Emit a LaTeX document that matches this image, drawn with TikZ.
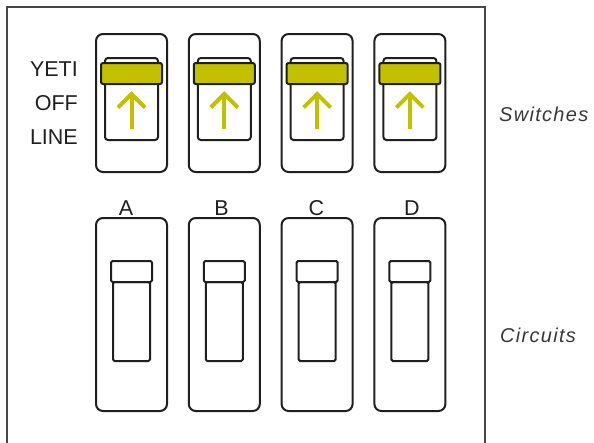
\documentclass[tikz,border=0pt]{standalone}
\usepackage{fontspec}
\setmainfont{Liberation Sans}
\newfontfamily\sidefont[LetterSpace=6.5]{Liberation Sans}
\begin{document}
\begin{tikzpicture}[x=1pt,y=-1pt,
  ink/.style={draw=black!88, line width=2pt},
  panel/.style={ink, rounded corners=7pt, minimum width=71pt, inner sep=0pt},
  lever/.style={ink, rounded corners=3pt, minimum width=53pt, minimum height=82pt, inner sep=0pt},
  band/.style={ink, fill=olive, rounded corners=2pt, minimum width=61pt, minimum height=21pt, inner sep=0pt},
  knob/.style={ink, rounded corners=1.5pt, minimum width=41pt, minimum height=21pt, inner sep=0pt},
  slot/.style={ink, rounded corners=1.5pt, minimum width=37pt, minimum height=79pt, inner sep=0pt},
  tag/.style={font=\fontsize{21.5}{24}\selectfont, text=black!88, inner sep=0pt},
  side/.style={font=\sidefont\itshape\fontsize{20}{22}\selectfont, text=black!78, inner sep=0pt, anchor=base west},
  uparrow/.style={draw=olive, line width=4pt}
]
\definecolor{olive}{HTML}{C2C000}
\useasboundingbox (0,0) rectangle (594,442);
\clip (0,0) rectangle (594,442);

% housing outline, open at the bottom
\draw[draw=black!72, line width=2pt] (7,445) -- (7,7) -- (485,7) -- (485,445);

% status legend
\node[tag, anchor=base east] (yeti) at (78,76) {YETI};
\node[tag, anchor=base east] (off)  at (78,110) {OFF};
\node[tag, anchor=base east] (line) at (78,144) {LINE};

% switches (top row) and circuits (bottom row)
\foreach \i/\lbl/\lx in {0/A/126, 1/B/221.5, 2/C/316.5, 3/D/412}{
  \pgfmathsetmacro{\cx}{131.5+92.8*\i}
  \node[panel, minimum height=138pt] (sw\i) at (\cx,103) {};
  \node[lever] (lev\i) at (\cx,99) {};
  \node[band] (band\i) at (\cx,73.5) {};
  \coordinate (tip\i) at (\cx,94);
  \coordinate (tail\i) at (\cx,128.5);
  \draw[uparrow] (tail\i) -- ([shift={(0,1.5)}]tip\i);
  \draw[uparrow, line join=miter] ([shift={(-13.5,13.5)}]tip\i) -- (tip\i) -- ([shift={(13.5,13.5)}]tip\i);

  \node[panel, minimum height=193pt] (ckt\i) at (\cx,314.5) {};
  \node[slot] (slot\i) at (\cx,321.5) {};
  \node[knob, fill=white] (knob\i) at (\cx,271.5) {};
  \node[tag, anchor=base] (name\i) at (\lx,215) {\lbl};
}

\node[side] (switches) at (499,121) {Switches};
\node[side] (circuits) at (500,342) {Circuits};
\end{tikzpicture}
\end{document}
